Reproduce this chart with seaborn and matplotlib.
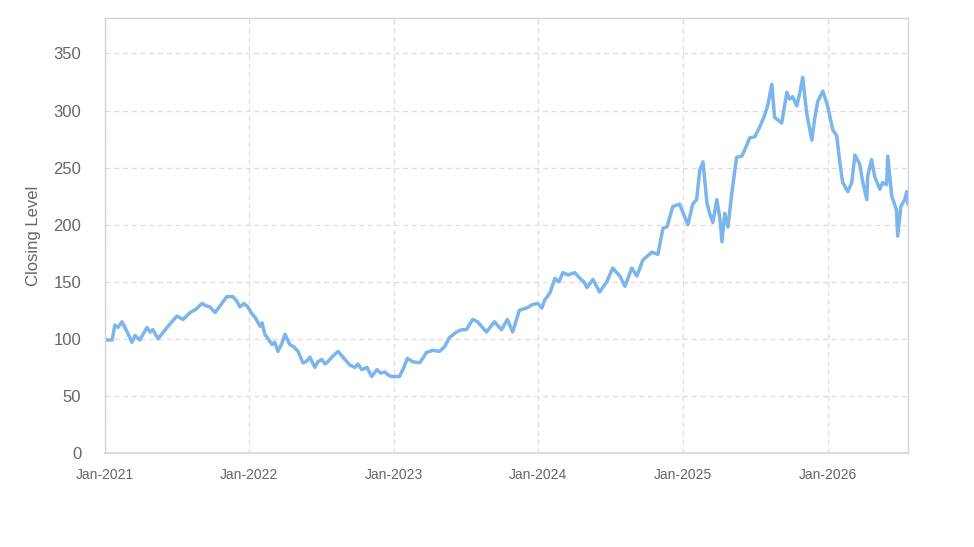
import pandas as pd
import matplotlib.pyplot as plt
import matplotlib.dates as mdates
import seaborn as sns

# Closing level readings (date, value)
dates = [
    "2021-01-01", "2021-01-06", "2021-01-19", "2021-01-26", "2021-02-03", "2021-02-13",
    "2021-02-26", "2021-03-10", "2021-03-18", "2021-03-30", "2021-04-17", "2021-04-25",
    "2021-05-02", "2021-05-15", "2021-06-07", "2021-06-19", "2021-07-02", "2021-07-17",
    "2021-08-04", "2021-08-19", "2021-09-03", "2021-09-13", "2021-09-23", "2021-10-06",
    "2021-10-21", "2021-11-05", "2021-11-20", "2021-11-30", "2021-12-08", "2021-12-18",
    "2021-12-28",
    "2022-01-07", "2022-01-15", "2022-01-28", "2022-02-02", "2022-02-09", "2022-02-17",
    "2022-02-27", "2022-03-06", "2022-03-14", "2022-03-24", "2022-04-01", "2022-04-13",
    "2022-04-23", "2022-05-04", "2022-05-16", "2022-05-24", "2022-06-03", "2022-06-15",
    "2022-06-23", "2022-07-03", "2022-07-11", "2022-07-18", "2022-07-31", "2022-08-13",
    "2022-08-23", "2022-08-30", "2022-09-12", "2022-09-25", "2022-10-02", "2022-10-12",
    "2022-10-25", "2022-11-06", "2022-11-19", "2022-11-29", "2022-12-09", "2022-12-19",
    "2022-12-27",
    "2023-01-08", "2023-01-15", "2023-01-25", "2023-02-04", "2023-02-17", "2023-03-07",
    "2023-03-17", "2023-03-24", "2023-04-09", "2023-04-26", "2023-05-09", "2023-05-21",
    "2023-06-08", "2023-06-21", "2023-07-03", "2023-07-19", "2023-07-31", "2023-08-13",
    "2023-08-23", "2023-09-12", "2023-09-30", "2023-10-15", "2023-10-28", "2023-11-14",
    "2023-12-02", "2023-12-17", "2023-12-30",
    "2024-01-10", "2024-01-17", "2024-01-30", "2024-02-12", "2024-02-22", "2024-03-03",
    "2024-03-16", "2024-04-02", "2024-04-15", "2024-04-25", "2024-05-03", "2024-05-18",
    "2024-06-04", "2024-06-22", "2024-07-07", "2024-07-25", "2024-08-07", "2024-08-24",
    "2024-09-06", "2024-09-21", "2024-10-14", "2024-10-29", "2024-11-11", "2024-11-21",
    "2024-12-06", "2024-12-23", "2024-12-31",
    "2025-01-13", "2025-01-25", "2025-02-04", "2025-02-12", "2025-02-20", "2025-03-02",
    "2025-03-09", "2025-03-17", "2025-03-27", "2025-04-04", "2025-04-09", "2025-04-16",
    "2025-04-24", "2025-05-04", "2025-05-16", "2025-05-29", "2025-06-06", "2025-06-18",
    "2025-07-01", "2025-07-14", "2025-07-26", "2025-08-03", "2025-08-13", "2025-08-20",
    "2025-09-07", "2025-09-20", "2025-09-27", "2025-10-05", "2025-10-15", "2025-10-23",
    "2025-10-30", "2025-11-09", "2025-11-22", "2025-11-29", "2025-12-07", "2025-12-20",
    "2026-01-01", "2026-01-14", "2026-01-24", "2026-02-01", "2026-02-08", "2026-02-21",
    "2026-03-03", "2026-03-11", "2026-03-23", "2026-03-31", "2026-04-10", "2026-04-12",
    "2026-04-22", "2026-04-30", "2026-05-13", "2026-05-20", "2026-05-30", "2026-06-02",
    "2026-06-12", "2026-06-24", "2026-06-27", "2026-07-05", "2026-07-15", "2026-07-20",
    "2026-07-23",
]
closing = [
    100, 99, 99, 112, 110, 115,
    106, 97, 103, 99, 110, 106,
    108, 100, 110, 115, 120, 117,
    123, 126, 131, 129, 128, 123,
    130, 137, 137, 133, 128, 131,
    128,
    122, 119, 111, 114, 104, 100,
    95, 97, 89, 96, 104, 95,
    93, 89, 79, 80, 84, 75,
    80, 82, 78, 80, 85, 89,
    85, 82, 77, 75, 78, 73,
    75, 67, 73, 70, 71, 68,
    67,
    67, 67, 74, 83, 80, 79,
    84, 88, 90, 89, 93, 101,
    106, 108, 108, 117, 115, 110,
    106, 115, 108, 117, 106, 125,
    127, 130, 131,
    127, 134, 140, 153, 150, 158,
    156, 158, 153, 150, 145, 152,
    141, 150, 162, 155, 146, 162,
    155, 169, 176, 174, 197, 198,
    216, 218, 211,
    200, 218, 222, 248, 255, 219,
    210, 202, 222, 205, 185, 210,
    198, 228, 259, 260, 266, 276,
    277, 286, 296, 305, 323, 294,
    289, 316, 310, 312, 304, 316,
    329, 298, 274, 292, 308, 317,
    304, 283, 278, 254, 237, 229,
    237, 261, 253, 237, 222, 242,
    257, 242, 231, 237, 235, 260,
    225, 213, 190, 216, 222, 229,
    218,
]
year_ticks = ["2021-01-01", "2022-01-01", "2023-01-01", "2024-01-01", "2025-01-01", "2026-01-01"]

df = pd.DataFrame({"Date": pd.to_datetime(dates), "Close": closing})

sns.set_style("white")
plt.rcParams["font.family"] = ["Liberation Sans", "DejaVu Sans"]

fig = plt.figure(figsize=(9.74, 5.47), dpi=100)
ax = fig.add_axes([0.1078, 0.1718, 0.8244, 0.7952])

sns.lineplot(data=df, x="Date", y="Close", ax=ax, color="#7cb5ec", linewidth=2.5)

ax.set_xlim(pd.Timestamp("2021-01-01"), pd.Timestamp("2026-07-23"))
ax.set_ylim(0, 381)
ax.set_yticks(range(0, 351, 50))
ax.set_xticks(pd.to_datetime(year_ticks))
ax.xaxis.set_major_formatter(mdates.DateFormatter("%b-%Y"))

ax.grid(True, linestyle=(0, (4, 3)), color="#dedede", linewidth=0.9)
ax.set_axisbelow(True)

for side in ["top", "right", "left"]:
    ax.spines[side].set_color("#d0d4da")
    ax.spines[side].set_linewidth(1.0)
ax.spines["bottom"].set_color("#ccd6eb")
ax.spines["bottom"].set_linewidth(1.2)

ax.tick_params(axis="y", length=0, pad=17, labelsize=12, labelcolor="#666666")
ax.tick_params(axis="x", length=5, width=1, color="#ccd6eb", pad=6,
               labelsize=10, labelcolor="#666666")

ax.set_xlabel("")
ax.set_ylabel("Closing Level", fontsize=12, color="#666666", labelpad=9)

fig.savefig("out.png", dpi=100, facecolor="white")
